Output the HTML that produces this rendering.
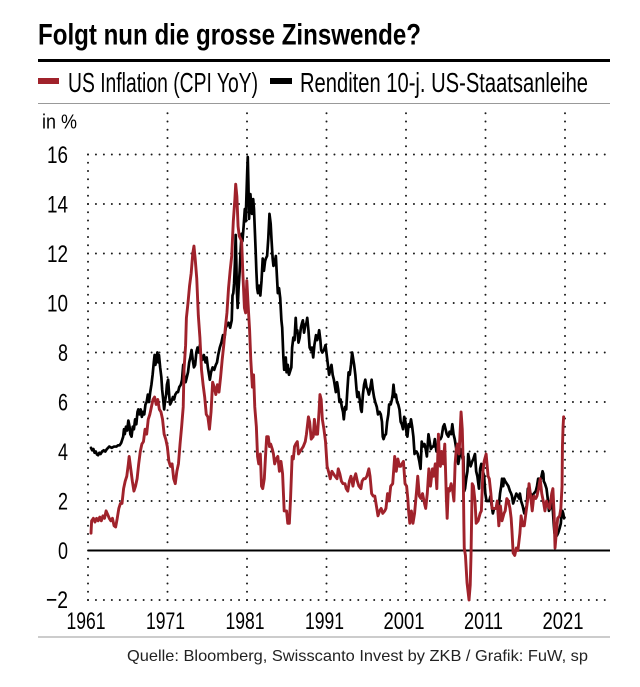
<!DOCTYPE html>
<html><head><meta charset="utf-8"><style>html,body{margin:0;padding:0;background:#fff}svg{display:block}</style></head>
<body>
<svg width="640" height="687" viewBox="0 0 640 687" xmlns="http://www.w3.org/2000/svg">
<rect width="640" height="687" fill="#fff"/>
<text x="38" y="44.5" font-family="'Liberation Sans Narrow','Liberation Sans',sans-serif" font-weight="bold" font-size="30" textLength="383" lengthAdjust="spacingAndGlyphs" fill="#000">Folgt nun die grosse Zinswende?</text>
<rect x="38" y="59" width="572" height="3" fill="#000"/>
<rect x="38" y="78" width="21" height="6" fill="#a0222b"/>
<text x="68" y="92" font-family="'Liberation Sans Narrow','Liberation Sans',sans-serif" font-size="27.5" textLength="190" lengthAdjust="spacingAndGlyphs" fill="#000">US Inflation (CPI YoY)</text>
<rect x="270" y="78" width="22" height="6" fill="#000"/>
<text x="300" y="92" font-family="'Liberation Sans Narrow','Liberation Sans',sans-serif" font-size="27.5" textLength="288" lengthAdjust="spacingAndGlyphs" fill="#000">Renditen 10-j. US-Staatsanleihe</text>
<line x1="38" y1="103.5" x2="610" y2="103.5" stroke="#999" stroke-width="1"/>

<text x="42" y="128.5" font-family="'Liberation Sans Narrow','Liberation Sans',sans-serif" font-size="20" textLength="35" lengthAdjust="spacingAndGlyphs" fill="#000">in %</text>

<!-- grid -->
<g stroke="#1a1a1a" stroke-width="2" stroke-linecap="round" stroke-dasharray="0 7.95" fill="none">
<path d="M88 154.5H610"/><path d="M88 204H610"/><path d="M88 253.5H610"/><path d="M88 303H610"/><path d="M88 352.5H610"/><path d="M88 402H610"/><path d="M88 451.5H610"/><path d="M88 501H610"/><path d="M88 600H610"/>
</g>
<g stroke="#1a1a1a" stroke-width="2" stroke-linecap="round" stroke-dasharray="0 8.25" fill="none">
<path d="M88 600V154"/><path d="M167.5 600V107"/><path d="M247 600V107"/><path d="M326.5 600V107"/><path d="M406 600V107"/><path d="M485.5 600V107"/><path d="M565 600V107"/>
</g>
<line x1="88" y1="550.5" x2="610" y2="550.5" stroke="#000" stroke-width="2"/>

<!-- y labels -->
<g font-family="'Liberation Sans Narrow','Liberation Sans',sans-serif" font-size="24.5" fill="#000" text-anchor="end">
<text x="68" y="163" textLength="21" lengthAdjust="spacingAndGlyphs">16</text>
<text x="68" y="212.5" textLength="21" lengthAdjust="spacingAndGlyphs">14</text>
<text x="68" y="262" textLength="21" lengthAdjust="spacingAndGlyphs">12</text>
<text x="68" y="311.5" textLength="21" lengthAdjust="spacingAndGlyphs">10</text>
<text x="68" y="361" textLength="10" lengthAdjust="spacingAndGlyphs">8</text>
<text x="68" y="410.5" textLength="10" lengthAdjust="spacingAndGlyphs">6</text>
<text x="68" y="460" textLength="10" lengthAdjust="spacingAndGlyphs">4</text>
<text x="68" y="509.5" textLength="10" lengthAdjust="spacingAndGlyphs">2</text>
<text x="68" y="559" textLength="10" lengthAdjust="spacingAndGlyphs">0</text>
<text x="68" y="608" textLength="22" lengthAdjust="spacingAndGlyphs">−2</text>
</g>
<!-- x labels -->
<g font-family="'Liberation Sans Narrow','Liberation Sans',sans-serif" font-size="24.5" fill="#000" text-anchor="middle">
<text x="86" y="629" textLength="39" lengthAdjust="spacingAndGlyphs">1961</text>
<text x="165.5" y="629" textLength="39" lengthAdjust="spacingAndGlyphs">1971</text>
<text x="245" y="629" textLength="39" lengthAdjust="spacingAndGlyphs">1981</text>
<text x="324.5" y="629" textLength="39" lengthAdjust="spacingAndGlyphs">1991</text>
<text x="404" y="629" textLength="41" lengthAdjust="spacingAndGlyphs">2001</text>
<text x="483.5" y="629" textLength="39" lengthAdjust="spacingAndGlyphs">2011</text>
<text x="563" y="629" textLength="41" lengthAdjust="spacingAndGlyphs">2021</text>
</g>

<!-- series -->
<g transform="matrix(7.95 0 0 -24.75 75.1 550.5)" fill="none" stroke-linejoin="round" stroke-linecap="round">
<path vector-effect="non-scaling-stroke" stroke="#000" stroke-width="2.7" d="M2,4.15 2.15,4.05 2.3,4.1 2.45,3.95 2.6,4 2.75,3.88 2.9,3.85 3.05,3.95 3.2,3.9 3.4,4 3.6,4.05 3.8,4 4,4.1 4.3,4.2 4.6,4.15 4.9,4.2 5.2,4.2 5.4,4.25 5.6,4.25 5.8,4.35 5.95,4.5 6.05,4.6 6.15,4.9 6.25,4.7 6.4,5 6.55,4.85 6.7,5.25 6.85,5 6.95,4.7 7.1,4.6 7.25,5 7.4,4.9 7.55,5.3 7.7,5.1 7.85,5.6 7.95,5.7 8.1,5.5 8.25,5.7 8.4,5.4 8.55,5.6 8.7,5.5 8.85,5.9 9,6 9.15,6.3 9.3,6 9.45,6.4 9.6,6.7 9.75,7.1 9.9,7.6 10,7.9 10.1,7.5 10.2,7.7 10.35,8 10.45,7.6 10.55,7.9 10.7,7.4 10.85,7 10.95,6.5 11.05,6.2 11.2,5.7 11.3,6 11.45,6.3 11.55,6.7 11.7,6.9 11.85,6.2 11.95,5.9 12.1,6 12.3,6.2 12.45,6.1 12.6,6.3 12.8,6.4 12.95,6.4 13.1,6.6 13.3,6.7 13.45,6.9 13.6,7.5 13.75,7 13.9,6.8 14.05,7 14.2,7.2 14.35,7.6 14.5,7.8 14.65,8.1 14.8,7.7 14.95,7.4 15.1,7.5 15.25,8 15.4,8.2 15.55,8 15.7,8.3 15.85,7.8 16,7.7 16.2,7.9 16.4,7.6 16.55,7.8 16.7,7.4 16.85,7.1 16.95,6.9 17.1,7.2 17.3,7.4 17.5,7.3 17.7,7.5 17.85,7.6 18,7.9 18.2,8.2 18.4,8.4 18.6,8.7 18.8,8.6 18.95,9 19.1,9.1 19.3,9.2 19.5,9 19.7,9.3 19.8,10.3 19.9,10.4 20,10.8 20.1,11.6 20.2,12.75 20.27,11.8 20.35,10.5 20.45,9.8 20.55,10.5 20.7,11.3 20.85,12.3 20.95,12.8 21.05,12.5 21.2,13.1 21.35,13.8 21.45,13.3 21.55,14.3 21.65,15.3 21.72,15.9 21.8,14.8 21.88,13.4 21.95,13.9 22.05,14.4 22.15,14 22.25,13.6 22.4,14.2 22.5,13.8 22.6,13 22.7,12.2 22.8,11.3 22.9,10.6 23,10.4 23.15,10.7 23.3,10.3 23.45,10.9 23.6,11.8 23.75,11.3 23.9,11.7 24,11.8 24.15,11.9 24.3,12.6 24.45,13.6 24.6,13.2 24.7,12.6 24.85,11.8 24.95,11.5 25.1,11.6 25.25,11.9 25.4,11 25.5,10.4 25.65,10.6 25.8,10.2 25.95,9.3 26.05,9 26.2,7.8 26.3,7.3 26.4,7.6 26.5,7.8 26.6,7.2 26.75,7.5 26.9,7.1 27,7.2 27.2,7.4 27.3,8.2 27.45,8.6 27.6,8.5 27.75,9.4 27.85,8.8 27.95,8.9 28.1,8.4 28.25,8.6 28.4,9 28.55,9.2 28.65,9.3 28.8,8.8 28.95,9.1 29.1,9.2 29.2,9.4 29.35,8.9 29.5,8.2 29.65,8.1 29.8,8.2 29.95,7.8 30.1,8.3 30.3,8.7 30.45,8.5 30.6,8.7 30.7,8.9 30.85,8.5 30.95,8.1 31.1,8 31.3,8.1 31.5,8.3 31.65,7.9 31.8,7.5 31.95,7.1 32.1,7.3 32.25,7.5 32.4,7.1 32.55,6.9 32.7,6.6 32.8,6.4 32.95,6.8 33.1,6.5 33.25,6 33.4,6.1 33.55,5.8 33.7,5.6 33.8,5.3 33.95,5.8 34.1,5.7 34.25,6.5 34.4,7.2 34.55,7.1 34.7,7.5 34.85,8 34.95,7.8 35.1,7.5 35.25,7.1 35.4,6.5 35.5,6.2 35.65,6.4 35.8,6.1 35.95,5.7 36.05,5.6 36.2,6.3 36.35,6.7 36.5,6.9 36.65,6.6 36.8,6.5 36.95,6.3 37.1,6.5 37.3,6.9 37.45,6.5 37.6,6.2 37.75,6 37.95,5.8 38.1,5.5 38.3,5.6 38.45,5.5 38.6,5.2 38.7,4.6 38.8,4.5 38.95,4.65 39.1,4.7 39.25,5.2 39.4,5.5 39.5,5.9 39.7,5.9 39.85,6.1 39.95,6.3 40.05,6.7 40.2,6.2 40.35,6.3 40.5,6 40.65,5.9 40.8,5.7 40.95,5.2 41.1,5.1 41.25,4.9 41.4,5.4 41.55,5.2 41.7,4.7 41.8,4.6 41.95,5.1 42.1,5 42.25,5.3 42.4,5 42.55,4.6 42.7,3.9 42.85,4 42.95,4 43.1,3.9 43.3,3.6 43.45,3.3 43.6,4.4 43.75,4.2 43.95,4.3 44.1,4.1 44.25,3.8 44.45,4.7 44.6,4.4 44.75,4.1 44.95,4.2 45.1,4.2 45.25,4.5 45.45,4 45.6,4.2 45.8,4.5 45.95,4.5 46.1,4.6 46.3,5 46.45,5.1 46.6,4.9 46.75,4.7 46.95,4.6 47.1,4.8 47.3,4.7 47.45,5.1 47.6,4.7 47.75,4.5 47.95,4.1 48.1,3.7 48.2,3.5 48.35,3.8 48.45,4.1 48.6,3.9 48.75,3.7 48.85,3.8 48.95,2.4 49.05,2.5 49.2,2.9 49.35,3.2 49.45,3.9 49.6,3.6 49.75,3.4 49.95,3.6 50.1,3.7 50.3,3.9 50.45,3.2 50.6,3 50.8,2.5 50.95,3.3 51.1,3.5 51.3,3.2 51.45,3 51.6,2.3 51.75,2 51.95,2 52.1,2 52.25,2.2 52.4,1.8 52.55,1.5 52.7,1.7 52.95,1.7 53.1,1.9 53.3,1.8 53.45,2.3 53.6,2.6 53.7,2.9 53.85,2.6 53.95,2.9 54.1,2.8 54.3,2.7 54.5,2.6 54.7,2.4 54.85,2.3 54.95,2.2 55.1,1.9 55.3,2.1 55.5,2.3 55.7,2.2 55.85,2.1 55.95,2.3 56.1,2 56.3,1.8 56.5,1.5 56.6,1.6 56.8,1.8 56.95,2.5 57.1,2.4 57.3,2.3 57.5,2.2 57.7,2.3 57.95,2.4 58.1,2.6 58.25,2.9 58.4,2.9 58.6,2.9 58.8,3.2 58.9,3.1 58.95,2.8 59.1,2.7 59.3,2.5 59.45,2.1 59.6,1.6 59.75,1.7 59.85,1.8 59.95,1.9 60.1,1.6 60.2,1.1 60.3,0.7 60.45,0.7 60.6,0.6 60.75,0.7 60.95,0.9 61.1,1.1 61.2,1.6 61.3,1.6 61.4,1.5 61.5,1.3"/>
<path vector-effect="non-scaling-stroke" stroke="#a0222b" stroke-width="2.9" d="M2,0.7 2.08,1.2 2.3,1.3 2.5,1.15 2.7,1.3 2.9,1.2 3.1,1.35 3.3,1.2 3.5,1.4 3.7,1.3 3.9,1.6 4.1,1.45 4.3,1.3 4.5,1.2 4.7,1.3 4.9,1 5.1,0.95 5.3,1.3 5.5,1.7 5.7,1.9 5.9,1.9 6.1,2.5 6.3,2.8 6.5,3 6.7,3.5 6.8,3.8 7,3.3 7.2,2.8 7.4,2.4 7.6,2.6 7.8,2.9 8,3.5 8.2,4 8.4,4.3 8.6,4.4 8.8,4.9 9,4.7 9.2,5.3 9.4,5.5 9.6,5.8 9.8,6.1 10,6.2 10.2,5.9 10.4,6.1 10.6,5.7 10.8,5.6 11,5.3 11.2,4.7 11.4,4.5 11.6,4.2 11.8,3.6 12,3.4 12.2,3.5 12.4,2.9 12.6,2.7 12.8,3.2 13,3.5 13.2,4.3 13.4,5 13.6,5.8 13.7,7.3 13.9,8.3 14,9.4 14.2,10 14.4,10.7 14.6,11.2 14.8,12 14.95,12.3 15.1,11.8 15.3,11 15.5,9.5 15.7,8.6 15.9,7.3 16.1,6.7 16.3,6.2 16.5,5.5 16.7,5.4 16.9,4.9 17.1,5.6 17.3,6.8 17.5,6.6 17.7,6.3 17.9,6.7 18.1,6.4 18.3,7 18.5,7.7 18.7,8.3 18.9,9 19.1,9.6 19.3,10.6 19.5,11.3 19.7,11.9 19.9,13.3 20.1,14.2 20.2,14.8 20.35,14.3 20.5,13.1 20.65,12.7 20.8,12.6 20.95,12.5 21.1,11.2 21.3,9.8 21.45,9.6 21.6,10.9 21.75,10 21.95,8.9 22.1,7.7 22.3,6.6 22.45,7.1 22.6,5.8 22.8,5 22.95,3.8 23.1,3.5 23.3,3.9 23.45,2.6 23.6,2.5 23.8,2.9 23.95,3.8 24.1,4.6 24.3,4.6 24.45,4.2 24.6,4.3 24.8,4.1 24.95,3.9 25.1,3.5 25.3,3.7 25.5,3.8 25.7,3.2 25.9,3.6 26.1,3.1 26.3,1.6 26.45,1.6 26.6,1.6 26.75,1.1 26.95,1.1 27.1,2.1 27.3,3.8 27.45,3.7 27.6,4.2 27.75,4.3 27.95,4.4 28.1,3.9 28.3,4 28.5,4.1 28.7,4.2 28.95,4.4 29.1,4.7 29.35,5.4 29.5,5.2 29.7,4.5 29.95,4.6 30.1,5.3 30.3,4.7 30.5,4.7 30.7,5.7 30.8,6.3 30.95,6.1 31.1,5.3 31.3,4.9 31.5,4.4 31.7,3.4 31.95,3.1 32.1,2.9 32.3,3.2 32.5,3.1 32.7,3 32.95,2.9 33.1,3.3 33.3,3.1 33.5,2.8 33.7,2.7 33.95,2.7 34.1,2.5 34.3,2.4 34.5,2.8 34.7,3 34.95,2.6 35.1,2.9 35.3,3.1 35.5,2.8 35.7,2.6 35.95,2.5 36.1,2.8 36.3,2.9 36.5,2.9 36.7,3 36.95,3.3 37.1,3 37.3,2.3 37.5,2.2 37.7,2.2 37.95,1.7 38.1,1.4 38.3,1.6 38.5,1.7 38.7,1.5 38.95,1.6 39.1,1.7 39.3,2.3 39.5,2 39.7,2.6 39.95,2.7 40.2,3.8 40.4,3.2 40.6,3.7 40.8,3.4 40.95,3.4 41.1,3.5 41.3,3.6 41.5,2.7 41.7,2.6 41.85,2.1 41.95,1.6 42.1,1.1 42.3,1.6 42.5,1.1 42.7,1.5 42.95,2.4 43.1,3 43.3,2.2 43.5,2.1 43.7,2.3 43.95,1.9 44.1,1.7 44.3,2.3 44.5,3.3 44.7,2.6 44.95,3.3 45.1,3 45.3,3.5 45.5,2.5 45.7,4.7 45.85,3.5 45.95,3.4 46.1,4 46.3,3.5 46.5,4.3 46.7,2.1 46.8,1.3 46.95,2.5 47.1,2.4 47.3,2.7 47.5,2.4 47.65,2 47.8,3.5 47.95,4.1 48.1,4.3 48.3,3.9 48.55,5.6 48.7,4.9 48.8,3.7 48.9,1.1 48.95,0.1 49.1,-0.2 49.3,-1.3 49.55,-2 49.7,-1.4 49.8,-0.2 49.95,2.7 50.1,2.6 50.3,2 50.45,1.1 50.7,1.2 50.95,1.5 51.1,1.6 51.3,3.2 51.45,3.6 51.7,3.9 51.95,3 52.1,2.9 52.3,2.3 52.45,1.7 52.7,1.7 52.95,1.7 53.1,2 53.3,1 53.5,1.8 53.7,1.2 53.95,1.5 54.1,1.6 54.3,2.1 54.5,2 54.7,1.7 54.85,1.3 54.95,0.8 55.1,-0.1 55.3,-0.2 55.5,0.1 55.7,0 55.95,0.7 56.1,1.4 56.3,1 56.5,1 56.7,1.5 56.95,2.1 57.1,2.7 57.3,2.2 57.5,1.6 57.7,2.2 57.95,2.1 58.1,2.2 58.3,2.5 58.5,2.9 58.7,2.3 58.95,1.9 59.1,1.6 59.3,2 59.5,1.8 59.7,1.7 59.95,2.3 60.1,2.5 60.25,1.5 60.37,0.1 60.5,0.6 60.7,1.3 60.95,1.4 61.1,1.7 61.25,2.6 61.3,4.2 61.38,5 61.45,5.4"/>
</g>

<line x1="38" y1="637" x2="610" y2="637" stroke="#999" stroke-width="1"/>
<text x="127" y="661" font-family="'Liberation Sans',sans-serif" font-size="16" textLength="461" lengthAdjust="spacingAndGlyphs" fill="#222">Quelle: Bloomberg, Swisscanto Invest by ZKB / Grafik: FuW, sp</text>
</svg>
</body></html>
